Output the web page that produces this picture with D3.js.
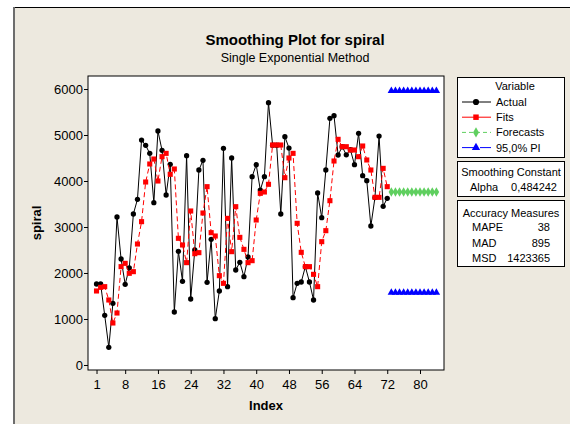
<!DOCTYPE html>
<html>
<head>
<meta charset="utf-8">
<script src="https://cdn.jsdelivr.net/npm/d3@7"></script>
<style>
  body { margin: 0; background: #fff; }
  text { font-family: "Liberation Sans", Arial, sans-serif; fill: #000; }
</style>
</head>
<body>
<svg id="chart" width="570" height="424"></svg>
<script>
// observed series (index 1..72)
var actual = [1761, 1761, 1080, 384, 1341, 3217, 2304, 1754, 2109, 3283,
    3601, 4891, 4775, 4601, 3529, 5087, 4667, 3696, 4362, 1152,
    2471, 1819, 4551, 1435, 2500, 4239, 4449, 1797, 2732, 1007,
    1609, 4710, 1703, 4500, 2065, 2232, 1920, 2348, 4094, 4355,
    3804, 4094, 5703, 4780, 4780, 3283, 4964, 4717, 1464, 1775,
    1804, 2138, 1804, 1413, 3739, 3203, 4239, 5362, 5420, 4565,
    4745, 4570, 4680, 4355, 5036, 4116, 4007, 3022, 3640, 4978,
    3449, 3623];

var fits = [1609, 1688, 1703, 1413, 913, 1130, 2138, 2210, 1993, 2029,
    2630, 3116, 3978, 4370, 4478, 4000, 4529, 4601, 4145, 4261,
    2754, 2609, 2225, 3348, 2420, 2442, 3304, 3877, 2877, 2804,
    1942, 1775, 3188, 2464, 3442, 2775, 2514, 2225, 2268, 3152,
    3732, 3761, 3928, 4783, 4783, 4783, 4072, 4500, 4601, 3080,
    2449, 2138, 2138, 1971, 1703, 2681, 2920, 3572, 4435, 4906,
    4746, 4746, 4674, 4674, 4529, 4761, 4457, 4239, 3645, 3645,
    4275, 3877];

// forecasts, periods 73..84
var forecastIndex = [73, 74, 75, 76, 77, 78, 79, 80, 81, 82, 83, 84];
var forecasts = [3761, 3761, 3761, 3761, 3761, 3761, 3761, 3761, 3761, 3761, 3761, 3761];
var upperPI = [5960, 5960, 5960, 5960, 5960, 5960, 5960, 5960, 5960, 5960, 5960, 5960];
var lowerPI = [1575, 1575, 1575, 1575, 1575, 1575, 1575, 1575, 1575, 1575, 1575, 1575];

var xTicks = [1, 8, 16, 24, 32, 40, 48, 56, 64, 72, 80];
var yTicks = [0, 1000, 2000, 3000, 4000, 5000, 6000];

var legendItems = ["Actual", "Fits", "Forecasts", "95,0% PI"];
var alphaValue = "0,484242";
var accuracyNames = ["MAPE", "MAD", "MSD"];
var accuracyValues = ["38", "895", "1423365"];

var svg = d3.select("#chart");

// graph frame
svg.append("rect").attr("x", 13).attr("y", 7).attr("width", 600).attr("height", 440)
    .attr("fill", "#EDE9DF");
svg.append("line").attr("x1", 14).attr("x2", 570).attr("y1", 7.5).attr("y2", 7.5)
    .attr("stroke", "#000");
svg.append("line").attr("x1", 14).attr("x2", 14).attr("y1", 7).attr("y2", 424)
    .attr("stroke", "#6d6d6d").attr("stroke-width", 2);

var pLeft = 88, pRight = 444, pTop = 76, pBottom = 370;

var x = d3.scaleLinear().domain([-1.08, 85.86]).range([pLeft, pRight]);
var y = d3.scaleLinear().domain([-109, 6283]).range([pBottom, pTop]);

svg.append("rect").attr("x", pLeft).attr("y", pTop)
    .attr("width", pRight - pLeft).attr("height", pBottom - pTop)
    .attr("fill", "#fff").attr("stroke", "#000");

// axes
var xAxis = svg.append("g").attr("transform", "translate(0," + pBottom + ")")
    .call(d3.axisBottom(x).tickValues(xTicks).tickSize(4).tickPadding(6));
var yAxis = svg.append("g").attr("transform", "translate(" + pLeft + ",0)")
    .call(d3.axisLeft(y).tickValues(yTicks).tickSize(4).tickPadding(1).tickFormat(d3.format("d")));
[xAxis, yAxis].forEach(function (a) {
    a.select(".domain").remove();
    a.selectAll("text").attr("font-size", 13).attr("fill", "#000")
        .style("font-family", "'Liberation Sans', Arial, sans-serif");
    a.selectAll("line").attr("stroke", "#000");
});

// titles
svg.append("text").attr("x", 295).attr("y", 45).attr("text-anchor", "middle")
    .attr("font-size", 15).attr("font-weight", "bold").text("Smoothing Plot for spiral");
svg.append("text").attr("x", 295).attr("y", 62).attr("text-anchor", "middle")
    .attr("font-size", 12.5).text("Single Exponential Method");
svg.append("text").attr("x", (pLeft + pRight) / 2).attr("y", 410).attr("text-anchor", "middle")
    .attr("font-size", 13).attr("font-weight", "bold").text("Index");
svg.append("text").attr("transform", "translate(41," + ((pTop + pBottom) / 2) + ") rotate(-90)")
    .attr("text-anchor", "middle").attr("font-size", 13).attr("font-weight", "bold").text("spiral");

var plot = svg.append("g");
var idx = d3.range(1, actual.length + 1);

var line = d3.line().x(function (d) { return x(d[0]); }).y(function (d) { return y(d[1]); });

function drawSeries(xs, ys, color, dash, shape, size) {
    var pts = xs.map(function (v, i) { return [v, ys[i]]; });
    plot.append("path").datum(pts).attr("d", line)
        .attr("fill", "none").attr("stroke", color).attr("stroke-width", 1)
        .attr("stroke-dasharray", dash);
    plot.selectAll(null).data(pts).enter().append("path")
        .attr("transform", function (d) { return "translate(" + x(d[0]) + "," + y(d[1]) + ")"; })
        .attr("d", d3.symbol().type(shape).size(size))
        .attr("fill", color);
}

drawSeries(idx, actual, "#000", null, d3.symbolCircle, 22);
drawSeries(idx, fits, "#FF0000", "5,3", d3.symbolSquare, 26);
drawSeries(forecastIndex, forecasts, "#5FCF5F", "5,3", d3.symbolDiamond, 26);
drawSeries(forecastIndex, upperPI, "#0000FF", "5,3", d3.symbolTriangle, 24);
drawSeries(forecastIndex, lowerPI, "#0000FF", "5,3", d3.symbolTriangle, 24);

// legend
var legend = svg.append("g");
function box(y0, h) {
    legend.append("rect").attr("x", 457.5).attr("y", y0 + 0.5).attr("width", 107).attr("height", h)
        .attr("fill", "#fff").attr("stroke", "#000");
}
box(77, 80);
box(161, 35);
box(200, 66);

legend.append("text").attr("x", 515).attr("y", 90).attr("text-anchor", "middle")
    .attr("font-size", 11).text("Variable");
var legendStyle = [
    { color: "#000", dash: null, shape: d3.symbolCircle },
    { color: "#FF0000", dash: null, shape: d3.symbolSquare },
    { color: "#5FCF5F", dash: "4,3", shape: d3.symbolDiamond },
    { color: "#0000FF", dash: "14,4", shape: d3.symbolTriangle }
];
legendItems.forEach(function (name, i) {
    var cy = 102 + i * 15.2;
    var s = legendStyle[i];
    legend.append("line").attr("x1", 462).attr("x2", 491).attr("y1", cy).attr("y2", cy)
        .attr("stroke", s.color).attr("stroke-dasharray", s.dash);
    legend.append("path").attr("transform", "translate(476," + cy + ")")
        .attr("d", d3.symbol().type(s.shape).size(30)).attr("fill", s.color);
    legend.append("text").attr("x", 496).attr("y", cy + 4).attr("font-size", 11).text(name);
});

legend.append("text").attr("x", 511).attr("y", 176).attr("text-anchor", "middle")
    .attr("font-size", 11).text("Smoothing Constant");
legend.append("text").attr("x", 470).attr("y", 191).attr("font-size", 11).text("Alpha");
legend.append("text").attr("x", 557).attr("y", 191).attr("text-anchor", "end")
    .attr("font-size", 11).text(alphaValue);

legend.append("text").attr("x", 511).attr("y", 217).attr("text-anchor", "middle")
    .attr("font-size", 11).text("Accuracy Measures");
accuracyNames.forEach(function (name, i) {
    var cy = 231 + i * 15.5;
    legend.append("text").attr("x", 472).attr("y", cy).attr("font-size", 11).text(name);
    legend.append("text").attr("x", 550).attr("y", cy).attr("text-anchor", "end")
        .attr("font-size", 11).text(accuracyValues[i]);
});
</script>
</body>
</html>
